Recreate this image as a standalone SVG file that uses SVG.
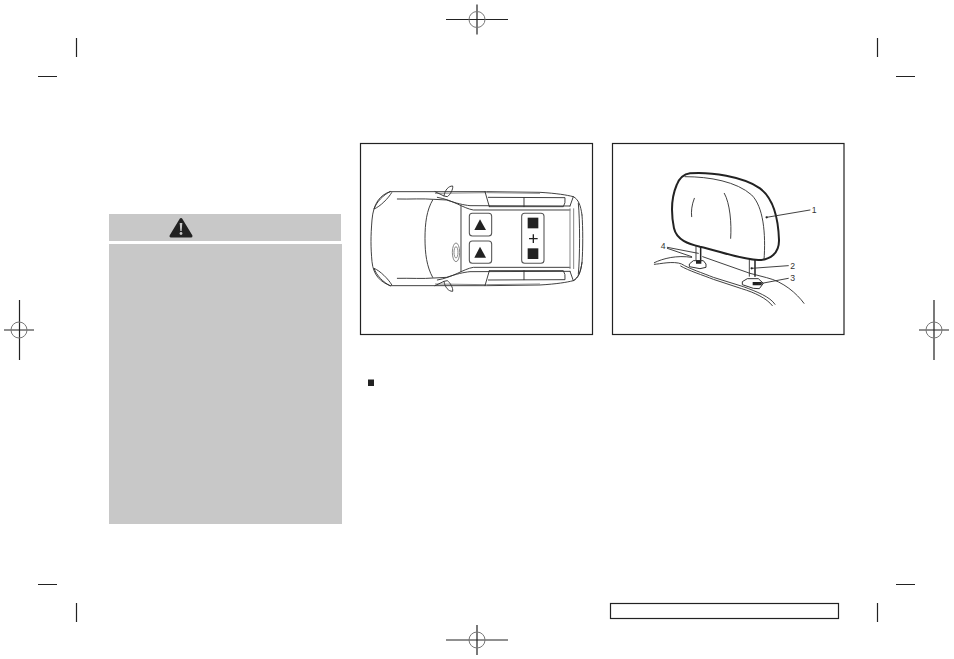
<svg xmlns="http://www.w3.org/2000/svg" width="954" height="659" viewBox="0 0 954 659">
<style>
.k{stroke:#222;stroke-width:1.2;fill:none}
.ring{stroke:#777;stroke-width:1;fill:none}
.frame{stroke:#222;stroke-width:1.200;fill:none}
.l{stroke:#333;stroke-width:2.800;fill:none;stroke-linecap:round;stroke-linejoin:round}
.g{stroke:#888;stroke-width:3;fill:none}
.btn{stroke:#555;stroke-width:3.200;fill:#fff}
.d{fill:#222}
.h{stroke:#222;stroke-width:6;fill:#fff;stroke-linejoin:round}
.n{font-family:"Liberation Sans",Arial,sans-serif;font-size:26px;fill:#333}
</style>
<defs>
<g id="reg"><path class="k" d="M-31 0H31M0-15V15"/><circle class="ring" r="8"/></g>
<g id="side">
<path class="l" d="M90 155L225 155L380 155L540 157C590 160 620 165 640 170C655 178 662 195 666 225"/>
<path class="g" d="M225 160L380 158L540 160"/>
<path class="l" d="M90 155C70 165 50 185 42 207C60 200 85 175 95 158"/>
<path class="l" d="M112 177C150 178 190 175 220 178"/>
<path class="l" d="M222 178L260 180C290 190 310 195 330 197L630 198"/>
<path class="l" d="M232 172C280 180 310 205 340 210L630 210"/>
<path class="l" d="M375 155L388 200M385 172L615 173Q617 190 610 200L388 200M492 173V200"/>
<path class="l" d="M225 155L252 168C255 150 265 138 278 138C280 148 270 165 262 170L252 168"/>
<path class="l" d="M630 198L640 170"/>
</g>
</defs>
<rect width="954" height="659" fill="#fff"/>
<g id="crop-marks">
<path class="k" d="M76.500 38V57M38 76.500H57M877.500 38V57M896 76.500H915M38 584.500H57M76.500 603V622M896 584.500H915M877.500 603V622"/>
</g>
<g id="registration">
<use href="#reg" x="477" y="19.500"/>
<use href="#reg" x="477" y="640"/>
<path class="k" d="M19.500 300V360M4 330H34"/><circle class="ring" cx="19" cy="330" r="8"/>
<path class="k" d="M934 300V360M919 330H949"/><circle class="ring" cx="934" cy="330" r="8"/>
</g>
<g id="warning-box">
<rect x="109" y="214" width="232" height="27" fill="#c8c8c8"/>
<rect x="109" y="244" width="233" height="280" fill="#c8c8c8"/>
<path d="M181 219.500L171 236H191Z" fill="#222" stroke="#222" stroke-width="3" stroke-linejoin="round"/>
<path d="M179.700 223H182.300L181.700 231H180.300Z" fill="#c8c8c8"/><circle cx="181" cy="233.500" r="1.400" fill="#c8c8c8"/>
</g>
<g id="car-frame">
<rect class="frame" x="360.500" y="143.500" width="232" height="191"/>
<g transform="translate(360 140) scale(.33333)">
<use href="#side"/>
<use href="#side" transform="translate(0 592) scale(1 -1)"/>
<path class="l" d="M90 155C60 165 40 190 36 240C32 290 32 320 36 365C40 405 60 425 90 437"/>
<path class="l" d="M640 422C655 414 662 397 666 367C669 330 669 260 666 225"/>
<path class="l" d="M655 190C660 240 660 350 655 402"/>
<path class="g" d="M630 205V387M641 205V387"/>
<path class="l" d="M218 180C200 210 195 250 195 295C195 340 200 380 218 412"/>
<path class="l" d="M303 197V395"/>
<ellipse class="g" cx="288" cy="337" rx="11" ry="28"/>
<ellipse class="g" cx="288" cy="337" rx="6" ry="17"/>
<rect class="btn" x="328" y="220" width="67" height="68" rx="9"/>
<rect class="btn" x="328" y="303" width="67" height="67" rx="9"/>
<rect class="btn" x="485" y="220" width="67" height="150" rx="9"/>
<path class="d" d="M343 270L360 238L378 270Z"/>
<path class="d" d="M343 353L360 320L378 353Z"/>
<rect class="d" x="503" y="233" width="32" height="32"/>
<rect class="d" x="503" y="325" width="32" height="32"/>
<path d="M507 296H533M520 283V309" stroke="#222" stroke-width="4" fill="none"/>
</g>
</g>
<g id="headrest-frame">
<rect class="frame" x="612.500" y="143.500" width="231.500" height="191"/>
<g transform="translate(610 140) scale(.33333)">
<path d="M258 315V360M418 360V410" stroke="#444" stroke-width="3" fill="none"/>
<path d="M272 318V360M435 360V410" stroke="#222" stroke-width="4.500" fill="none"/>
<path class="h" d="M240 100C300 95 400 110 450 145C490 175 505 240 507 300C508 340 480 360 445 360C390 358 320 330 270 320C235 312 200 300 192 265C183 220 185 170 200 135C210 110 225 102 240 100Z"/>
<path class="l" d="M225 110C300 110 380 125 425 165C460 200 468 280 462 360M253 175C245 195 243 215 245 230M343 160C360 190 365 250 362 295"/>
<path class="l" d="M133 368C160 355 200 345 245 352M133 373C150 372 190 362 215 372C235 385 280 400 310 412L400 440C440 455 480 470 495 493M212 378C235 392 280 406 310 418L395 446C435 458 470 475 487 497M278 350L420 400L470 413C520 425 560 460 582 490"/>
<path class="h" style="stroke-width:2.800" d="M238 372L250 362H280L288 372V382L270 386L238 380Z"/>
<path class="h" style="stroke-width:2.800" d="M397 425L412 416H445L460 430L448 446L430 445L397 434Z"/>
<path d="M258 366H274M428 431H455" stroke="#222" stroke-width="10" fill="none"/>
<path class="l" d="M470 232L600 210M425 385L535 377M445 432L535 415M172 322L265 340M172 325L245 350"/>
<circle class="d" cx="470" cy="232" r="3.500"/><circle class="d" cx="425" cy="385" r="3.500"/>
<text class="n" x="605" y="219">1</text>
<text class="n" x="541" y="387">2</text>
<text class="n" x="541" y="422">3</text>
<text class="n" x="152" y="328">4</text>
</g>
</g>
<g id="bullet"><rect class="d" x="368" y="379.500" width="6" height="6.500"/></g>
<g id="footer"><rect class="frame" x="610.500" y="603.500" width="228" height="15"/></g>
</svg>
